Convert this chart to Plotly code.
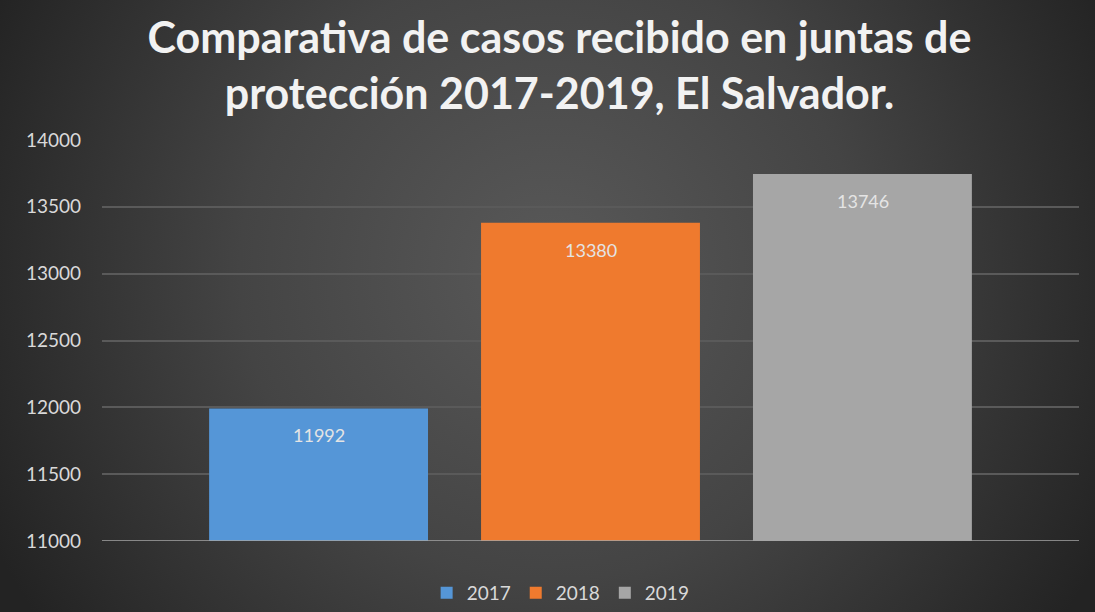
import base64
import plotly.graph_objects as go

# ---- data ----
series_names = ["2017", "2018", "2019"]
series_values = [11992, 13380, 13746]
category = [""]
y_ticks = [11000, 11500, 12000, 12500, 13000, 13500, 14000]
title_lines = ["Comparativa de casos recibido en juntas de", "protección 2017-2019, El Salvador."]

bar_colors = ["#5596d7", "#ef7a2e", "#a6a6a6"]
label_shift_x = [-272, 0, 272]

W, H = 1095, 612
ML, MR, MT, MB = 102, 16, 140, 71
PW, PH = W - ML - MR, H - MT - MB

# radial background as an inline svg image
svg = f'''<svg xmlns="http://www.w3.org/2000/svg" width="{W}" height="{H}" viewBox="0 0 {W} {H}" preserveAspectRatio="none">
<defs><radialGradient id="g" gradientUnits="userSpaceOnUse" cx="550" cy="270" r="620">
<stop offset="0%" stop-color="#595959"/>
<stop offset="50%" stop-color="#444444"/>
<stop offset="100%" stop-color="#232323"/>
</radialGradient></defs>
<rect width="{W}" height="{H}" fill="url(#g)"/></svg>'''
bg_src = "data:image/svg+xml;base64," + base64.b64encode(svg.encode()).decode()

fig = go.Figure()
for name, val, col in zip(series_names, series_values, bar_colors):
    fig.add_trace(go.Bar(
        x=category, y=[val], name=name,
        marker=dict(color=col, line=dict(width=0)),
    ))

annotations = []
for val, dx in zip(series_values, label_shift_x):
    annotations.append(dict(
        x=0, y=val, xref="x", yref="y", text=str(val), showarrow=False,
        xshift=dx, yshift=-27, yanchor="middle",
        font=dict(family="Lato", size=18, color="#e4e4e4"),
    ))

fig.update_layout(
    width=W, height=H,
    margin=dict(l=ML, r=MR, t=MT, b=MB),
    paper_bgcolor="#333333",
    plot_bgcolor="rgba(0,0,0,0)",
    barmode="group",
    bargap=0.165,
    bargroupgap=0.195,
    title=dict(
        text="<br>".join(title_lines),
        x=0.511, xanchor="center", y=1 - 53 / H, yanchor="middle",
        font=dict(family="Lato", size=43, color="#f2f2f2", weight="bold"),
    ),
    images=[dict(source=bg_src, xref="paper", yref="paper",
                 x=-ML / PW, y=1 + MT / PH,
                 sizex=W / PW, sizey=H / PH,
                 xanchor="left", yanchor="top",
                 sizing="stretch", layer="below")],
    legend=dict(
        orientation="h", xref="container", yref="container",
        x=0.512, xanchor="center", y=1 - 593 / H, yanchor="middle",
        font=dict(family="Lato", size=19, color="#d9d9d9"),
        bgcolor="rgba(0,0,0,0)", itemwidth=30,
    ),
    annotations=annotations,
    showlegend=True,
)
fig.update_xaxes(showticklabels=False, showgrid=False, zeroline=False, showline=False, ticks="")
fig.update_yaxes(
    range=[11000, 14000], tickvals=y_ticks, tickformat="d",
    showgrid=True, gridcolor="#5a5a5a", gridwidth=1.5,
    zeroline=False, showline=False, ticks="",
    tickfont=dict(family="Lato", size=19, color="#d9d9d9"),
    ticklabelstandoff=20,
)
fig.add_hline(y=11000, line=dict(color="#a6a6a6", width=1.5))

fig.write_html("out.html", config={"displayModeBar": False},
               post_script="document.body.style.margin='0';")
